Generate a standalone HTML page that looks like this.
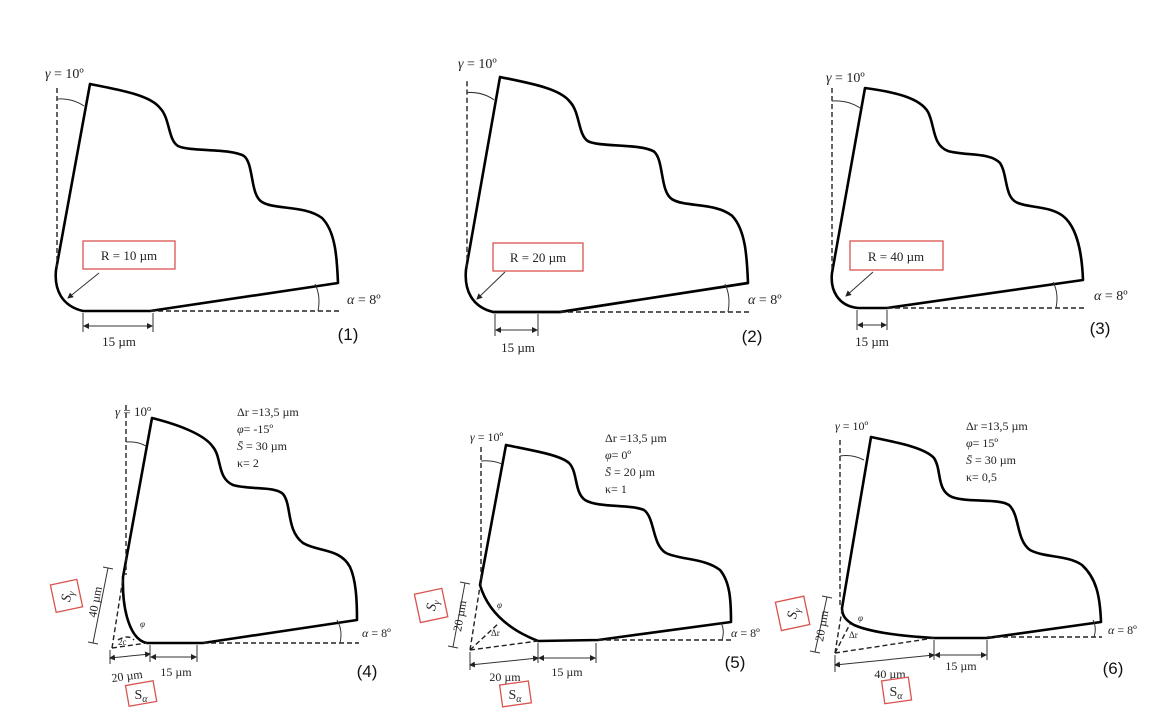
<!DOCTYPE html>
<html><head><meta charset="utf-8"><style>
html,body{margin:0;padding:0;background:#fff;}
svg{display:block;}
.s{fill:none;stroke:#000;stroke-width:2.6;stroke-linejoin:round;}
.d{fill:none;stroke:#222;stroke-width:1.4;stroke-dasharray:5,3;}
.t{fill:none;stroke:#333;stroke-width:1;}
.box{fill:#fff;stroke:#d9534f;stroke-width:1.3;}
.sf{font-family:"Liberation Serif",serif;fill:#222;}
.ss{font-family:"Liberation Sans",sans-serif;fill:#111;}
</style></head><body>
<svg width="1176" height="728" viewBox="0 0 1176 728" xmlns="http://www.w3.org/2000/svg">
<defs>
<marker id="a" markerWidth="6" markerHeight="6" refX="5" refY="3" orient="auto"><path d="M0,0 L6,3 L0,6 Z" fill="#222"/></marker>
<marker id="b" markerWidth="6" markerHeight="6" refX="1" refY="3" orient="auto"><path d="M6,0 L0,3 L6,6 Z" fill="#222"/></marker>
<g id="p1">
<path class="s" d="M90,84 C120,90 150,95 160,108 C170,118 168,140 178,146 C190,152 230,148 244,156 C254,164 250,195 262,202 C275,210 305,205 322,218 C336,232 337,260 338,283 L150,311 L83,311 C62,306 54,290 56,270 Z"/>
<line class="d" x1="57" y1="88" x2="57" y2="268"/>
<line class="d" x1="150" y1="311" x2="340" y2="311"/>
<path class="t" d="M57,99 Q72,98 84,106"/>
<path class="t" d="M318,311 Q321,296 315,284"/>
</g>
</defs>

<!-- Panel 1 -->
<use href="#p1"/>
<text class="sf" x="45" y="78" font-size="14"><tspan font-style="italic">γ</tspan> = 10º</text>
<rect class="box" x="83" y="241" width="92" height="28"/>
<text class="sf" x="129" y="260" font-size="13" text-anchor="middle">R = 10 µm</text>
<line class="t" x1="99" y1="273" x2="68" y2="298" marker-end="url(#a)"/>
<line class="t" x1="83" y1="313" x2="83" y2="332"/><line class="t" x1="153" y1="313" x2="153" y2="332"/>
<line class="t" x1="84" y1="326" x2="152" y2="326" marker-start="url(#b)" marker-end="url(#a)"/>
<text class="sf" x="119" y="346" font-size="13" text-anchor="middle">15 µm</text>
<text class="sf" x="347" y="304" font-size="14"><tspan font-style="italic">α</tspan> = 8º</text>
<text class="ss" x="348" y="340" font-size="17" text-anchor="middle">(1)</text>

<!-- Panel 2 -->
<g transform="matrix(1,0,0,1.035,410,-9.9)"><use href="#p1"/></g>
<text class="sf" x="458" y="68" font-size="14"><tspan font-style="italic">γ</tspan> = 10º</text>
<rect class="box" x="493" y="243" width="90" height="28"/>
<text class="sf" x="538" y="262" font-size="13" text-anchor="middle">R = 20 µm</text>
<line class="t" x1="505" y1="272" x2="477" y2="299" marker-end="url(#a)"/>
<line class="t" x1="495" y1="314" x2="495" y2="336"/><line class="t" x1="538" y1="314" x2="538" y2="336"/>
<line class="t" x1="496" y1="330" x2="537" y2="330" marker-start="url(#b)" marker-end="url(#a)"/>
<text class="sf" x="518" y="352" font-size="13" text-anchor="middle">15 µm</text>
<text class="sf" x="748" y="304" font-size="14"><tspan font-style="italic">α</tspan> = 8º</text>
<text class="ss" x="752" y="342" font-size="17" text-anchor="middle">(2)</text>

<!-- Panel 3 -->
<path class="s" d="M865,88 C895,92 920,98 928,112 C935,125 932,145 948,151 C965,156 990,152 1000,163 C1008,175 1004,198 1018,203 C1030,208 1050,206 1063,216 C1078,228 1082,255 1083,280 L887,308 L858,308 C838,306 830,290 832,273 Z"/>
<line class="d" x1="832" y1="88" x2="832" y2="272"/>
<line class="d" x1="887" y1="308" x2="1085" y2="308"/>
<path class="t" d="M832,101 Q848,100 860,108"/>
<path class="t" d="M1056,308 Q1059,293 1053,282"/>
<text class="sf" x="826" y="82" font-size="14"><tspan font-style="italic">γ</tspan> = 10º</text>
<rect class="box" x="850" y="241" width="93" height="29"/>
<text class="sf" x="896" y="261" font-size="13" text-anchor="middle">R = 40 µm</text>
<line class="t" x1="873" y1="272" x2="846" y2="296" marker-end="url(#a)"/>
<line class="t" x1="857" y1="310" x2="857" y2="330"/><line class="t" x1="887" y1="310" x2="887" y2="330"/>
<line class="t" x1="858" y1="325" x2="886" y2="325" marker-start="url(#b)" marker-end="url(#a)"/>
<text class="sf" x="872" y="346" font-size="13" text-anchor="middle">15 µm</text>
<text class="sf" x="1094" y="300" font-size="14"><tspan font-style="italic">α</tspan> = 8º</text>
<text class="ss" x="1100" y="334" font-size="17" text-anchor="middle">(3)</text>

<!-- Panel 4 -->
<path class="s" d="M152,418 C180,425 205,435 213,447 C222,458 217,478 233,485 C250,490 275,486 283,494 C292,505 286,530 303,543 C318,552 340,548 350,567 C356,580 357,600 357,620 L203,643 L147,643 C130,640 122,610 123,577 Z"/>
<line class="d" x1="126" y1="405" x2="126" y2="575"/>
<line class="d" x1="203" y1="643" x2="359" y2="643"/>
<line class="d" x1="112" y1="648" x2="123" y2="578"/>
<line class="d" x1="112" y1="648" x2="147" y2="643"/>
<path class="d" d="M118,640 Q128,634 134,640"/>
<path class="t" d="M126,442 Q137,441 146,446"/>
<path class="t" d="M340,643 Q343,630 337,620"/>
<text class="sf" x="115" y="416" font-size="13"><tspan font-style="italic">γ</tspan> = 10º</text>
<g class="sf" font-size="12"><text x="237" y="416">Δr =13,5 µm</text><text x="237" y="433"><tspan font-style="italic">φ</tspan>= -15º</text><text x="237" y="450"><tspan font-style="italic">S̄</tspan> = 30 µm</text><text x="237" y="467">κ= 2</text></g>
<text class="sf" x="140" y="627" font-size="9" font-style="italic">φ</text>
<text class="sf" x="118" y="645" font-size="9">2c</text>
<line class="t" x1="108" y1="568" x2="93" y2="643"/>
<line class="t" x1="103" y1="567" x2="113" y2="569"/><line class="t" x1="88" y1="642" x2="98" y2="644"/>
<text class="sf" x="0" y="0" font-size="12" transform="translate(96,618) rotate(-79)">40 µm</text>
<rect class="box" x="53" y="582" width="27" height="28" transform="rotate(-12,66,596)"/>
<text class="sf" x="66" y="601" font-size="14" font-style="italic" text-anchor="middle" transform="rotate(-79,66,596)">S<tspan font-size="10" dy="3">γ</tspan></text>
<line class="t" x1="110" y1="658" x2="150" y2="654" marker-start="url(#b)" marker-end="url(#a)"/>
<line class="t" x1="110" y1="650" x2="110" y2="664"/>
<line class="t" x1="150" y1="645" x2="150" y2="662"/><line class="t" x1="197" y1="645" x2="197" y2="662"/>
<line class="t" x1="151" y1="657" x2="196" y2="657" marker-start="url(#b)" marker-end="url(#a)"/>
<text class="sf" x="127" y="680" font-size="12" text-anchor="middle" transform="rotate(-8,127,676)">20 µm</text>
<text class="sf" x="176" y="676" font-size="12" text-anchor="middle">15 µm</text>
<rect class="box" x="127" y="683" width="28" height="21" transform="rotate(-10,141,693)"/>
<text class="sf" x="141" y="699" font-size="14" text-anchor="middle">S<tspan font-size="10" font-style="italic" dy="3">α</tspan></text>
<text class="sf" x="362" y="637" font-size="12"><tspan font-style="italic">α</tspan> = 8º</text>
<text class="ss" x="367" y="677" font-size="17" text-anchor="middle">(4)</text>

<!-- Panel 5 -->
<path class="s" d="M506,445 C535,451 560,455 569,463 C578,472 574,492 585,500 C598,508 630,504 644,510 C655,518 652,545 666,553 C680,560 705,558 720,570 C730,582 731,600 731,622 L598,640 L538,641 C510,630 488,612 480,585 Z"/>
<line class="d" x1="481" y1="447" x2="481" y2="585"/>
<line class="d" x1="598" y1="640" x2="732" y2="640"/>
<line class="d" x1="470" y1="650" x2="538" y2="641"/>
<line class="d" x1="470" y1="650" x2="480" y2="586"/>
<line class="d" x1="470" y1="650" x2="499" y2="623"/>
<path class="t" d="M481,461 Q492,460 502,464"/>
<path class="t" d="M722,640 Q725,630 721,623"/>
<text class="sf" x="470" y="441" font-size="12"><tspan font-style="italic">γ</tspan> = 10º</text>
<g class="sf" font-size="12"><text x="605" y="442">Δr =13,5 µm</text><text x="605" y="459"><tspan font-style="italic">φ</tspan>= 0º</text><text x="605" y="476"><tspan font-style="italic">S̄</tspan> = 20 µm</text><text x="605" y="493">κ= 1</text></g>
<text class="sf" x="497" y="608" font-size="9" font-style="italic">φ</text>
<text class="sf" x="491" y="636" font-size="9">Δr</text>
<line class="t" x1="465" y1="583" x2="453" y2="647"/>
<line class="t" x1="460" y1="582" x2="470" y2="584"/><line class="t" x1="448" y1="646" x2="458" y2="648"/>
<text class="sf" x="0" y="0" font-size="12" transform="translate(461,632) rotate(-80)">20 µm</text>
<rect class="box" x="417" y="591" width="28" height="29" transform="rotate(-12,431,605)"/>
<text class="sf" x="431" y="610" font-size="14" font-style="italic" text-anchor="middle" transform="rotate(-79,431,605)">S<tspan font-size="10" dy="3">γ</tspan></text>
<line class="t" x1="470" y1="665" x2="538" y2="658" marker-start="url(#b)" marker-end="url(#a)"/>
<line class="t" x1="470" y1="652" x2="470" y2="670"/>
<line class="t" x1="538" y1="643" x2="538" y2="663"/><line class="t" x1="596" y1="643" x2="596" y2="663"/>
<line class="t" x1="539" y1="658" x2="595" y2="658" marker-start="url(#b)" marker-end="url(#a)"/>
<text class="sf" x="505" y="681" font-size="12" text-anchor="middle">20 µm</text>
<text class="sf" x="567" y="676" font-size="12" text-anchor="middle">15 µm</text>
<rect class="box" x="501" y="683" width="29" height="22" transform="rotate(-8,515,694)"/>
<text class="sf" x="515" y="699" font-size="14" text-anchor="middle">S<tspan font-size="10" font-style="italic" dy="3">α</tspan></text>
<text class="sf" x="731" y="637" font-size="12"><tspan font-style="italic">α</tspan> = 8º</text>
<text class="ss" x="735" y="668" font-size="17" text-anchor="middle">(5)</text>

<!-- Panel 6 -->
<path class="s" d="M871,437 C900,443 925,448 934,458 C942,470 936,490 952,497 C968,503 998,498 1009,505 C1020,515 1016,540 1030,550 C1045,558 1068,555 1082,565 C1096,578 1100,595 1101,622 L987,638 L934,638 C900,636 870,632 854,625 C845,620 842,615 842,608 Z"/>
<line class="d" x1="840" y1="440" x2="840" y2="606"/>
<line class="d" x1="987" y1="637" x2="1102" y2="637"/>
<line class="d" x1="835" y1="653" x2="934" y2="638"/>
<line class="d" x1="835" y1="653" x2="842" y2="610"/>
<line class="d" x1="835" y1="653" x2="850" y2="624"/>
<path class="t" d="M840,456 Q852,454 864,460"/>
<path class="t" d="M1094,637 Q1097,628 1093,620"/>
<text class="sf" x="835" y="430" font-size="12"><tspan font-style="italic">γ</tspan> = 10º</text>
<g class="sf" font-size="12"><text x="966" y="430">Δr =13,5 µm</text><text x="966" y="447"><tspan font-style="italic">φ</tspan>= 15º</text><text x="966" y="464"><tspan font-style="italic">S̄</tspan> = 30 µm</text><text x="966" y="481">κ= 0,5</text></g>
<text class="sf" x="858" y="621" font-size="9" font-style="italic">φ</text>
<text class="sf" x="849" y="638" font-size="9">Δr</text>
<line class="t" x1="827" y1="597" x2="815" y2="652"/>
<line class="t" x1="822" y1="596" x2="832" y2="598"/><line class="t" x1="810" y1="651" x2="820" y2="653"/>
<text class="sf" x="0" y="0" font-size="12" transform="translate(823,642) rotate(-80)">20 µm</text>
<rect class="box" x="778" y="599" width="29" height="29" transform="rotate(-12,792,613)"/>
<text class="sf" x="792" y="618" font-size="14" font-style="italic" text-anchor="middle" transform="rotate(-79,792,613)">S<tspan font-size="10" dy="3">γ</tspan></text>
<line class="t" x1="835" y1="665" x2="934" y2="655" marker-start="url(#b)" marker-end="url(#a)"/>
<line class="t" x1="835" y1="655" x2="835" y2="672"/>
<line class="t" x1="934" y1="640" x2="934" y2="660"/><line class="t" x1="987" y1="640" x2="987" y2="660"/>
<line class="t" x1="935" y1="655" x2="986" y2="655" marker-start="url(#b)" marker-end="url(#a)"/>
<text class="sf" x="890" y="678" font-size="12" text-anchor="middle">40 µm</text>
<text class="sf" x="961" y="670" font-size="12" text-anchor="middle">15 µm</text>
<rect class="box" x="883" y="679" width="27" height="23" transform="rotate(-8,896,690)"/>
<text class="sf" x="896" y="696" font-size="14" text-anchor="middle">S<tspan font-size="10" font-style="italic" dy="3">α</tspan></text>
<text class="sf" x="1108" y="634" font-size="12"><tspan font-style="italic">α</tspan> = 8º</text>
<text class="ss" x="1113" y="674" font-size="17" text-anchor="middle">(6)</text>
</svg>
</body></html>
